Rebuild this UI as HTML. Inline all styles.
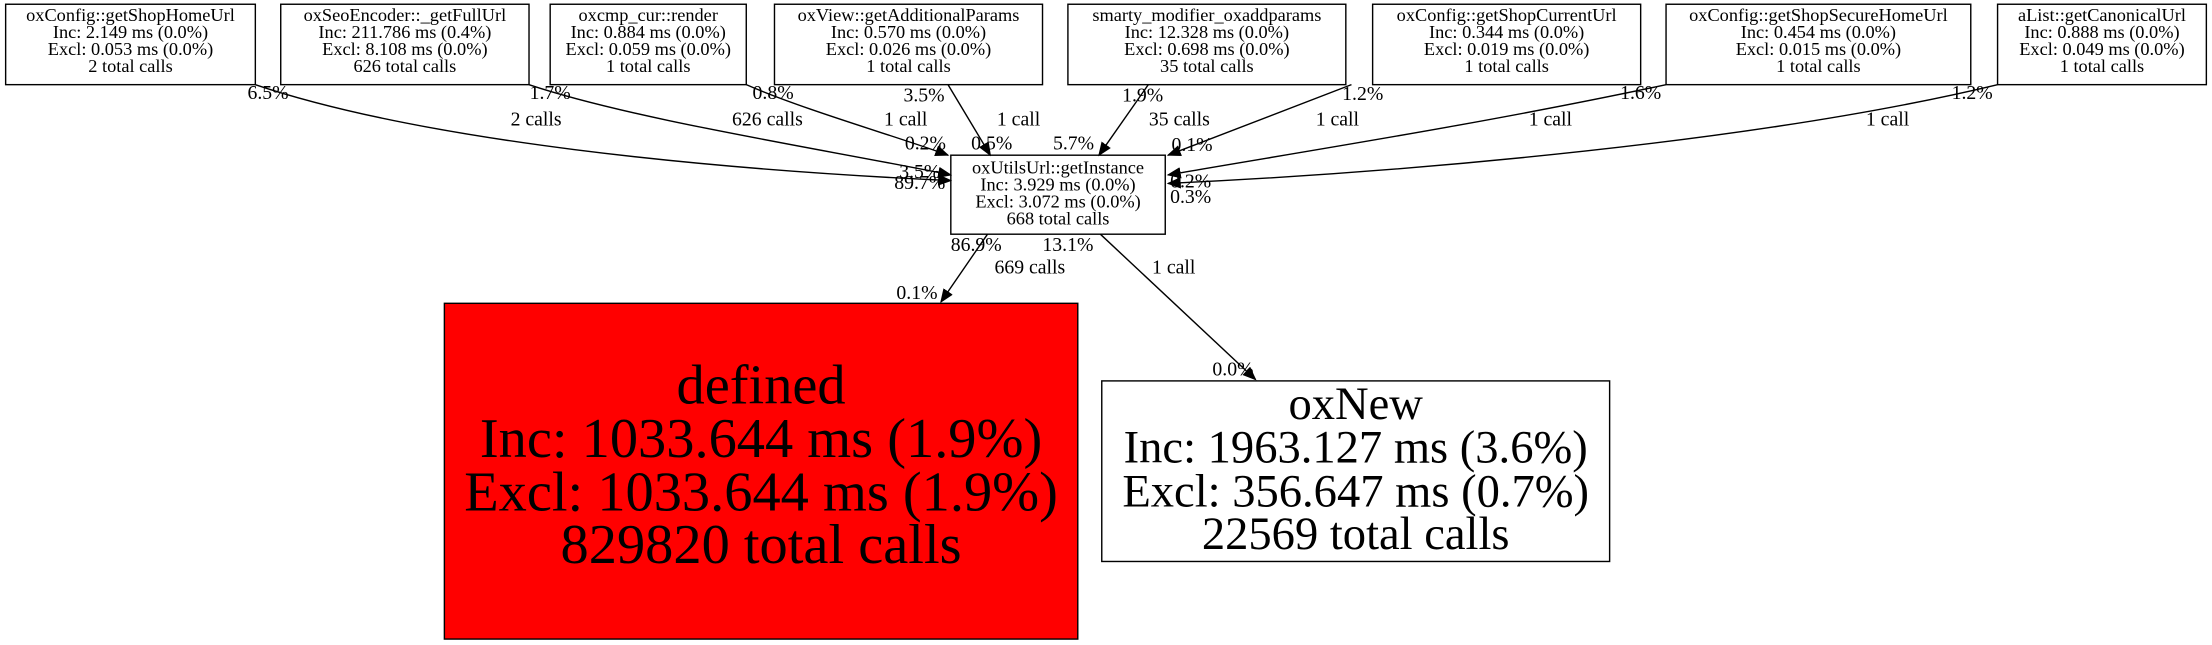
<!DOCTYPE html>
<html><head><meta charset="utf-8"><style>
html,body{margin:0;padding:0;background:#fff}
svg{display:block}
text{font-family:"Liberation Serif",serif;fill:#000}
.n{font-size:13px;text-anchor:middle}
.l{font-size:14px;text-anchor:middle}
</style></head><body>
<svg width="2212" height="645" viewBox="0 0 1568 457.2" xmlns="http://www.w3.org/2000/svg">
<defs><marker id="a" markerWidth="10" markerHeight="8" refX="9" refY="4" orient="auto" markerUnits="userSpaceOnUse"><path d="M0,0 L10,4 L0,8 z" fill="#000"/></marker></defs>
<g fill="#fff" stroke="#000" stroke-width="1">
<rect x="4" y="3" width="177" height="57"/>
<rect x="199" y="3" width="176" height="57"/>
<rect x="390" y="3" width="139" height="57"/>
<rect x="549" y="3" width="190" height="57"/>
<rect x="757" y="3" width="197" height="57"/>
<rect x="973" y="3" width="190" height="57"/>
<rect x="1181" y="3" width="216" height="57"/>
<rect x="1416" y="3" width="148" height="57"/>
<rect x="674" y="110" width="152" height="56"/>
<rect x="315" y="215" width="449" height="238" fill="#f00"/>
<rect x="781" y="270" width="360" height="128"/>
</g>
<g fill="none" stroke="#000" stroke-width="1" marker-end="url(#a)">
<path d="M181,60 C300,100 500,120 674,128"/>
<path d="M375,60 C450,85 580,105 674,124"/>
<path d="M529,60 C570,78 640,98 672,110"/>
<path d="M672,60 L702,110"/>
<path d="M814,60 L779,110"/>
<path d="M958,60 C900,82 860,98 828,110"/>
<path d="M1181,60 C1050,88 920,108 828,124"/>
<path d="M1416,60 C1250,100 1000,122 828,130"/>
<path d="M700,166 L667,214"/>
<path d="M780,166 L890,269"/>
</g>
<g class="n">
<text x="92.5" y="15">oxConfig::getShopHomeUrl</text><text x="92.5" y="27">Inc: 2.149 ms (0.0%)</text><text x="92.5" y="39">Excl: 0.053 ms (0.0%)</text><text x="92.5" y="51">2 total calls</text>
<text x="287" y="15">oxSeoEncoder::_getFullUrl</text><text x="287" y="27">Inc: 211.786 ms (0.4%)</text><text x="287" y="39">Excl: 8.108 ms (0.0%)</text><text x="287" y="51">626 total calls</text>
<text x="459.5" y="15">oxcmp_cur::render</text><text x="459.5" y="27">Inc: 0.884 ms (0.0%)</text><text x="459.5" y="39">Excl: 0.059 ms (0.0%)</text><text x="459.5" y="51">1 total calls</text>
<text x="644" y="15">oxView::getAdditionalParams</text><text x="644" y="27">Inc: 0.570 ms (0.0%)</text><text x="644" y="39">Excl: 0.026 ms (0.0%)</text><text x="644" y="51">1 total calls</text>
<text x="855.5" y="15">smarty_modifier_oxaddparams</text><text x="855.5" y="27">Inc: 12.328 ms (0.0%)</text><text x="855.5" y="39">Excl: 0.698 ms (0.0%)</text><text x="855.5" y="51">35 total calls</text>
<text x="1068" y="15">oxConfig::getShopCurrentUrl</text><text x="1068" y="27">Inc: 0.344 ms (0.0%)</text><text x="1068" y="39">Excl: 0.019 ms (0.0%)</text><text x="1068" y="51">1 total calls</text>
<text x="1289" y="15">oxConfig::getShopSecureHomeUrl</text><text x="1289" y="27">Inc: 0.454 ms (0.0%)</text><text x="1289" y="39">Excl: 0.015 ms (0.0%)</text><text x="1289" y="51">1 total calls</text>
<text x="1490" y="15">aList::getCanonicalUrl</text><text x="1490" y="27">Inc: 0.888 ms (0.0%)</text><text x="1490" y="39">Excl: 0.049 ms (0.0%)</text><text x="1490" y="51">1 total calls</text>
<text x="750" y="123">oxUtilsUrl::getInstance</text><text x="750" y="135">Inc: 3.929 ms (0.0%)</text><text x="750" y="147">Excl: 3.072 ms (0.0%)</text><text x="750" y="159">668 total calls</text>
</g>
<g style="text-anchor:middle">
<text x="539.5" y="286" font-size="40">defined</text><text x="539.5" y="324" font-size="40">Inc: 1033.644 ms (1.9%)</text><text x="539.5" y="362" font-size="40">Excl: 1033.644 ms (1.9%)</text><text x="539.5" y="399" font-size="40">829820 total calls</text>
<text x="961" y="297" font-size="33">oxNew</text><text x="961" y="328" font-size="33">Inc: 1963.127 ms (3.6%)</text><text x="961" y="359" font-size="33">Excl: 356.647 ms (0.7%)</text><text x="961" y="389" font-size="33">22569 total calls</text>
</g>
<g class="l">
<text x="190" y="70">6.5%</text><text x="380" y="89">2 calls</text><text x="652" y="126">3.5%</text><text x="652" y="134">89.7%</text>
<text x="390" y="70">1.7%</text><text x="544" y="89">626 calls</text>
<text x="548" y="70">0.8%</text><text x="642" y="89">1 call</text><text x="656" y="106">0.2%</text>
<text x="655" y="72">3.5%</text><text x="722" y="89">1 call</text><text x="703" y="106">0.5%</text>
<text x="810" y="72">1.9%</text><text x="836" y="89">35 calls</text><text x="761" y="106">5.7%</text>
<text x="966" y="71">1.2%</text><text x="948" y="89">1 call</text><text x="845" y="107">0.1%</text>
<text x="1163" y="70">1.6%</text><text x="1099" y="89">1 call</text>
<text x="1398" y="70">1.2%</text><text x="1338" y="89">1 call</text><text x="844" y="133">0.2%</text><text x="844" y="144">0.3%</text>
<text x="692" y="178">86.9%</text><text x="730" y="194">669 calls</text><text x="650" y="212">0.1%</text>
<text x="757" y="178">13.1%</text><text x="832" y="194">1 call</text><text x="874" y="266">0.0%</text>
</g>
</svg>
</body></html>
